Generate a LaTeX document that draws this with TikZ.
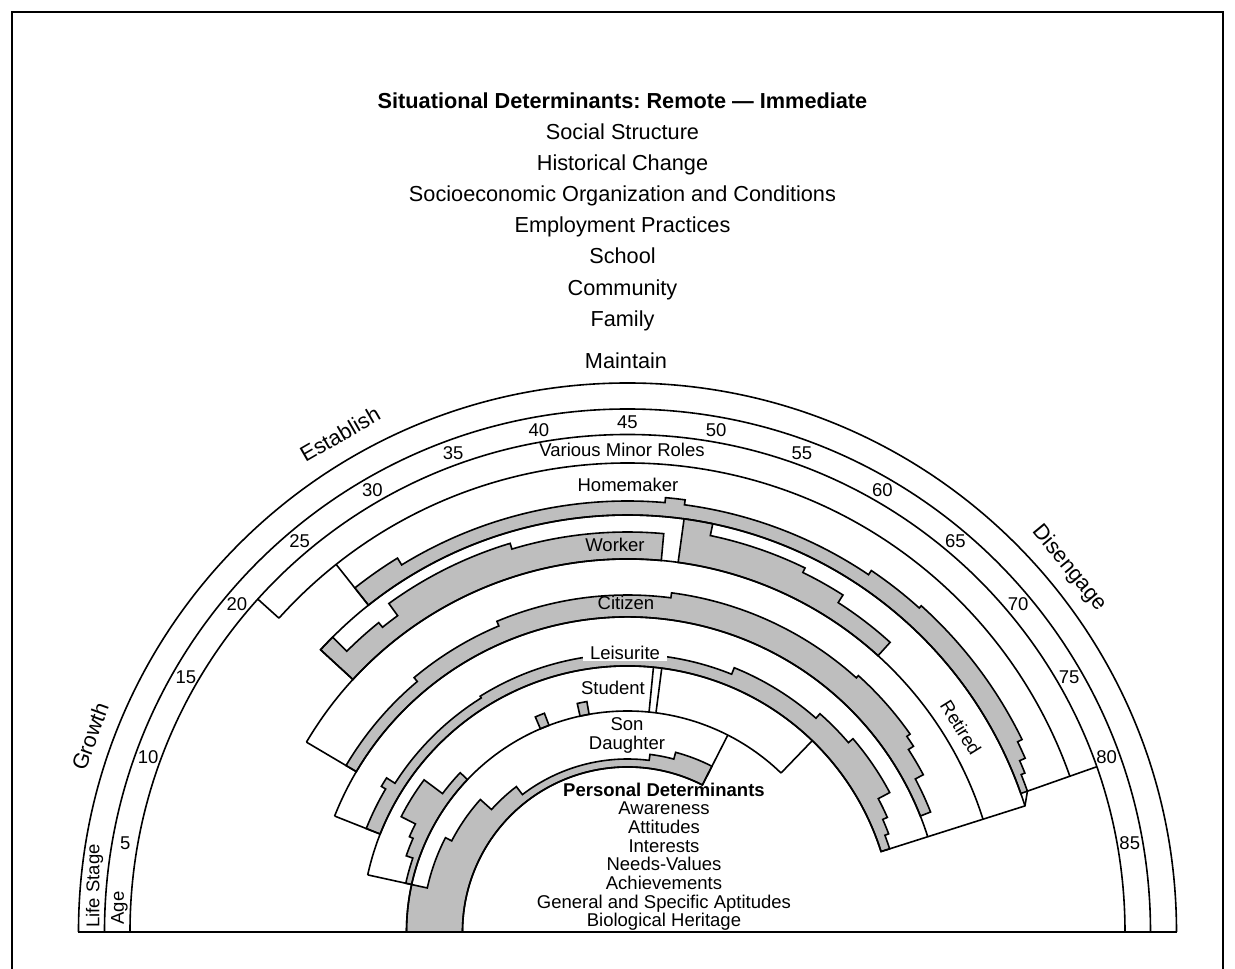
\documentclass[tikz,border=0pt]{standalone}
\usepackage{fontspec}
\setmainfont{Liberation Sans}
\frenchspacing
\definecolor{shadegray}{RGB}{190,190,190}
\tikzset{
  ln/.style={line width=1.6pt},
  grayfill/.style={fill=shadegray, draw=black, line width=1.6pt},
  lbl/.style={font=\fontsize{18.5}{20}\selectfont, inner sep=0pt, anchor=base},
  lblc/.style={font=\fontsize{18.5}{20}\selectfont, inner sep=0pt, anchor=center},
  big/.style={font=\fontsize{21.7}{24}\selectfont, inner sep=0pt, anchor=base},
  bigc/.style={font=\fontsize{21.7}{24}\selectfont, inner sep=0pt, anchor=center},
  frameline/.style={line width=2pt},
}
% #1 inner radius, #2 start age, #3 end age, #4 list age1/age2/thickness
\newcommand\grayband[4]{%
  \gdef\gbpath{}%
  \foreach \a/\b/\t in {#4} {%
    \pgfmathsetmacro\gbaa{180-2*\a}%
    \pgfmathsetmacro\gbbb{180-2*\b}%
    \pgfmathsetmacro\gbrr{#1+\t}%
    \xdef\gbpath{\gbpath -- (\gbaa:\gbrr) arc[start angle=\gbaa, end angle=\gbbb, radius=\gbrr pt]}%
  }%
  \pgfmathsetmacro\gbS{180-2*#2}\pgfmathsetmacro\gbE{180-2*#3}%
  \xdef\gbcmd{\noexpand\filldraw[grayfill] (\gbS:#1) \gbpath\space -- (\gbE:#1) arc[start angle=\gbE, end angle=\gbS, radius=#1pt] -- cycle;}%
  \gbcmd}
% arc at radius #1 from age #2 to age #3
\newcommand\barc[3]{%
  \draw[ln] ({180-2*#2}:#1) arc[start angle={180-2*#2}, end angle={180-2*#3}, radius=#1pt];}
% radial line at age #1 from radius #2 to #3
\newcommand\brad[3]{%
  \draw[ln] ({180-2*#1}:#2) -- ({180-2*#1}:#3);}
\begin{document}
\begin{tikzpicture}[x=1pt,y=1pt]
\useasboundingbox (-627.5,-37) rectangle (607.5,932);
\fill[white] (-627.5,-37) rectangle (607.5,932);
% frame
\draw[frameline] (-615.5,-40) -- (-615.5,920) -- (595.5,920) -- (595.5,-40);

% ---------- shaded involvement ----------
% Homemaker
\grayband{417}{25.8}{80.3}{25.8/29.2/22, 29.2/47.5/14, 47.5/48.8/19, 48.8/62/14, 62/66/19, 66/77/22, 77/78.2/17, 78.2/79.1/11, 79.1/80.3/7}
% Worker
\grayband{373}{21.3}{47.6}{21.3/22.5/44, 22.5/25.6/24, 25.6/27/18, 27/36.6/33, 36.6/47.6/27}
\grayband{373}{48.9}{66.1}{48.9/50.9/44, 50.9/58/32, 58/61.3/27, 61.3/66.1/18}
% Citizen
\grayband{315}{15.3}{79.2}{15.3/25/12, 25/33.6/17, 33.6/48.7/22, 48.7/66/27, 66/72.5/30, 72.5/73.5/26, 73.5/76/20, 76/79.2/11}
% Leisurite
\grayband{266}{10.8}{81.2}{10.8/15.3/15, 15.3/16.3/20, 16.3/29/10, 29/56/12, 56/65.7/19, 65.7/69.7/25, 69.7/76/31, 76/78.1/18, 78.1/79.7/13, 79.7/81.2/9}
% Student
\grayband{221}{6.2}{21.8}{6.2/9.5/6, 9.5/11.8/13, 11.8/13.5/17, 13.5/18.4/33, 18.4/21.8/10}
\grayband{221}{33.4}{34.6}{33.4/34.6/13}
\grayband{221}{38.8}{40}{38.8/40/13}
% Son / Daughter
\grayband{165}{0}{58.5}{0/6.2/56, 6.2/13.7/40, 13.7/21/33, 21/26.3/18, 26.3/48.6/8, 48.6/52.5/14, 52.5/58.5/21}

% ---------- band outlines ----------
\barc{549}{0}{90}
\barc{523}{0}{90}
\barc{497.5}{0}{90}
\barc{469}{21}{80.3}
\barc{417}{21.3}{81.2}
\barc{373}{15.3}{81.2}
\barc{315}{10.8}{81.2}
\barc{266}{6.2}{81.2}
\barc{221}{0}{67}
\barc{165}{0}{58.5}
\brad{21}{497.5}{469}
\brad{25.8}{469}{417}
\brad{21.3}{417}{373}
\brad{15.3}{373}{315}
\brad{10.8}{315}{266}
\brad{6.2}{266}{221}
\brad{47.8}{266}{221}
\brad{48.7}{266}{221}
\brad{67}{266}{221}
\brad{58.5}{221}{165}
\draw[ln] ({180-2*80.3}:497.5) -- ({180-2*80.3}:424) -- ({180-2*81.2}:417) -- ({180-2*81.2}:266);
\draw[ln] (-549,0) -- (549,0);

% ---------- ages ----------
\foreach \a in {5,10,...,85} {
  \node[lblc] (age\a) at ({180-2*\a}:510) {\a};
}
% ---------- life stages ----------
\node[bigc, rotate=70] (growth) at (160:572) {Growth};
\node[bigc, rotate=30] (establish) at (120:575) {Establish};
\node[big] (maintain) at (-1.5,563.2) {Maintain};
\node[bigc, rotate=-50.5] (disengage) at (39.5:572) {Disengage};
\node[lblc, rotate=90] (lifestage) at (-533,46) {Life Stage};
\node[lblc, rotate=90] (agelabel) at (-508,24) {Age};

% ---------- situational determinants ----------
\node[big, font=\fontsize{21.7}{24}\selectfont\bfseries] (sit) at (-5,823.2) {Situational Determinants: Remote — Immediate};
\node[big] (s1) at (-5,792.2) {Social Structure};
\node[big] (s2) at (-5,761.2) {Historical Change};
\node[big] (s3) at (-5,730.2) {Socioeconomic Organization and Conditions};
\node[big] (s4) at (-5,699.2) {Employment Practices};
\node[big] (s5) at (-5,668.2) {School};
\node[big] (s6) at (-5,636.2) {Community};
\node[big] (s7) at (-5,605.2) {Family};

% ---------- roles ----------
\node[lbl] (vmr) at (-5.5,475.3) {Various Minor Roles};
\node[lbl] (home) at (0.5,440.3) {Homemaker};
\node[lbl] (work) at (-12.5,380.3) {Worker};
\node[lbl] (cit) at (-1.5,322.3) {Citizen};
\node[lbl, fill=white, inner xsep=7pt, inner ysep=1.5pt] (leis) at (-2.5,272.3) {Leisurite};
\node[lbl] (stud) at (-14.5,237.3) {Student};
\node[lbl] (son) at (-0.5,201.3) {Son};
\node[lbl] (dau) at (-0.5,182.3) {Daughter};
\node[lblc, rotate=-58] (ret) at (31.5:391) {Retired};

% ---------- personal determinants ----------
\node[lbl, font=\fontsize{18.5}{20}\selectfont\bfseries] (pd) at (36.5,135.3) {Personal Determinants};
\node[lbl] (p1) at (36.5,117.3) {Awareness};
\node[lbl] (p2) at (36.5,98.3) {Attitudes};
\node[lbl] (p3) at (36.5,79.3) {Interests};
\node[lbl] (p4) at (36.5,61.3) {Needs-Values};
\node[lbl] (p5) at (36.5,42.3) {Achievements};
\node[lbl] (p6) at (36.5,23.3) {General and Specific Aptitudes};
\node[lbl] (p7) at (36.5,5.3) {Biological Heritage};
\end{tikzpicture}
\end{document}
